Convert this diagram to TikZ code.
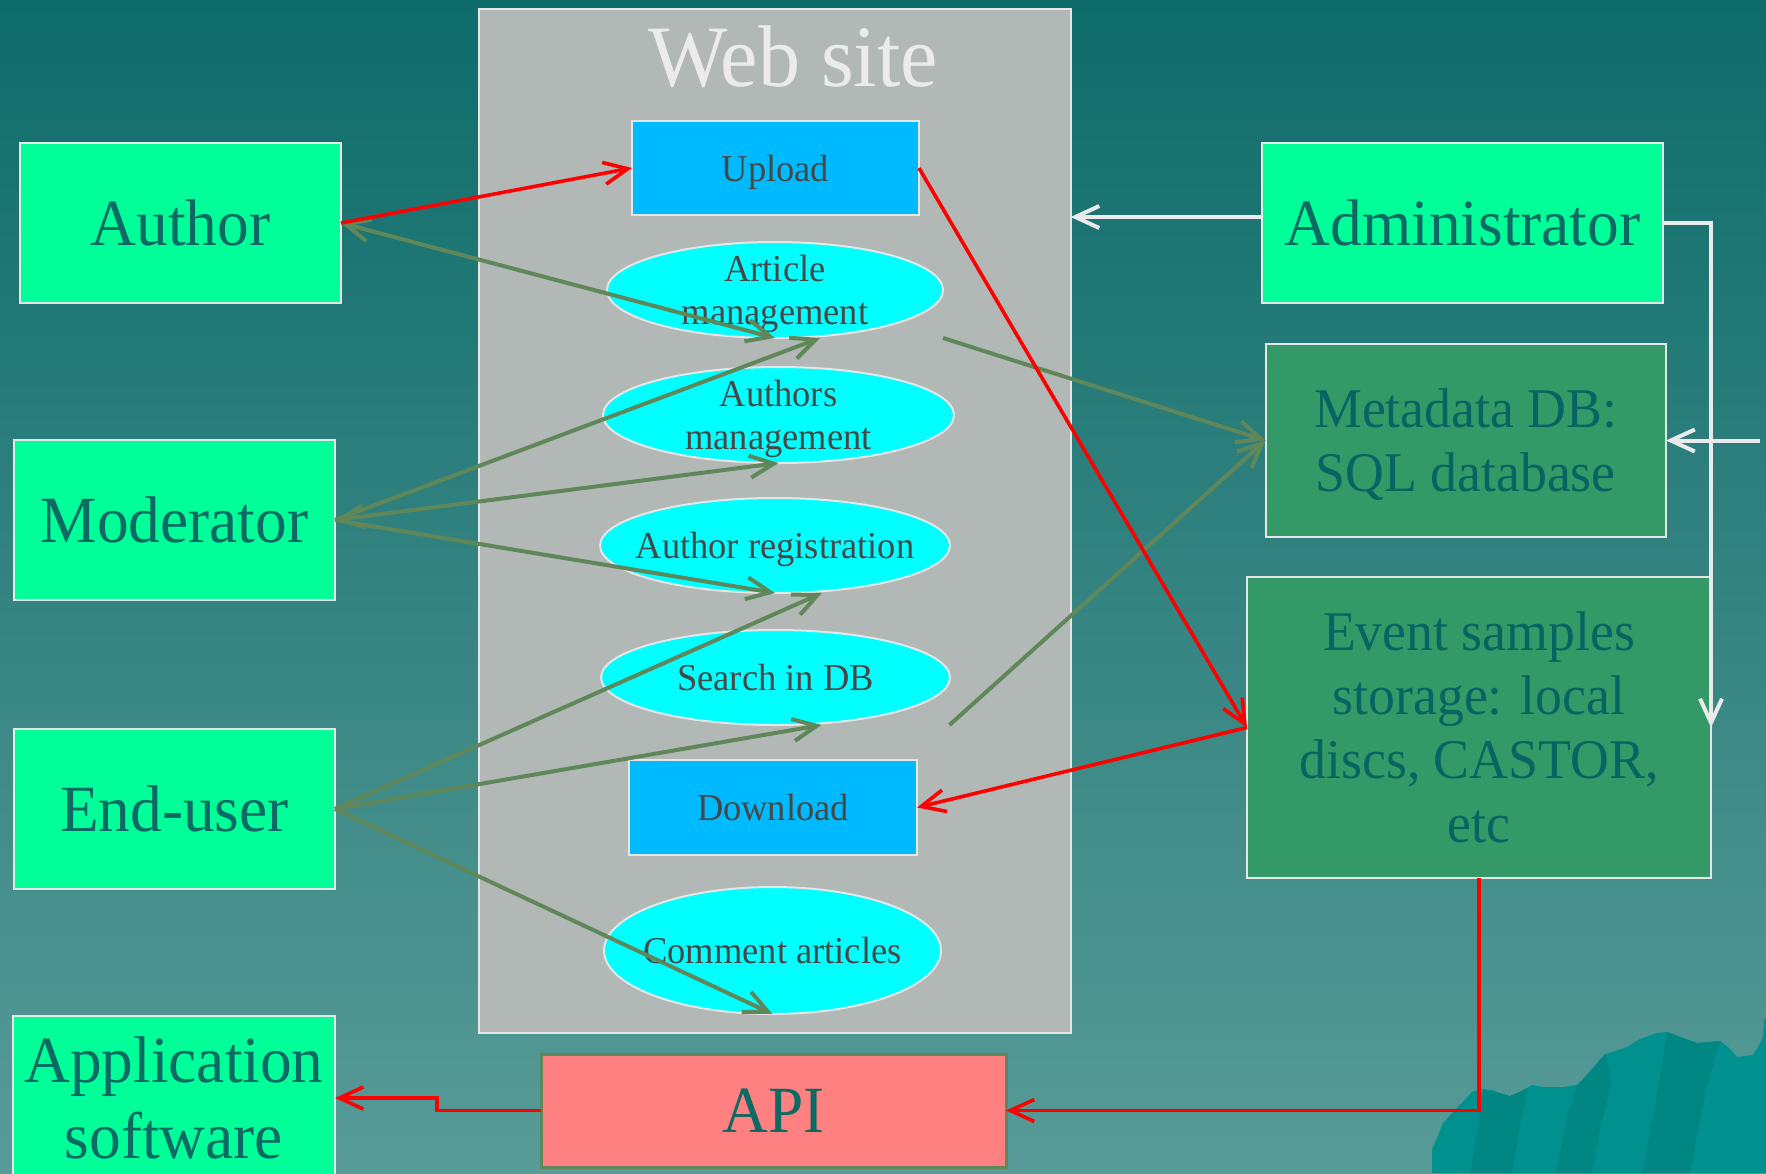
\documentclass[tikz,border=0pt]{standalone}
\usepackage{fontspec}
\setmainfont{Liberation Serif}[FakeStretch=0.96]
\usetikzlibrary{arrows.meta,shapes.geometric,calc}

\definecolor{bgtop}{HTML}{0E6C6A}
\definecolor{bgbottom}{HTML}{589B98}
\definecolor{hill}{HTML}{00918E}
\definecolor{hilldark}{HTML}{008683}
\definecolor{panelfill}{HTML}{B1B8B6}
\definecolor{edge}{HTML}{E6E6E6}
\definecolor{actorfill}{HTML}{00FF99}
\definecolor{storefill}{HTML}{339966}
\definecolor{tealtext}{HTML}{0B6A63}
\definecolor{storetext}{HTML}{086462}
\definecolor{actionfill}{HTML}{00BAFF}
\definecolor{usecasefill}{HTML}{00FFFF}
\definecolor{inktext}{HTML}{474747}
\definecolor{apifill}{HTML}{FF8080}
\definecolor{usegreen}{HTML}{5F875A}
\definecolor{flowred}{HTML}{FF0000}
\definecolor{adminwhite}{HTML}{EAEAEA}
\definecolor{titlewhite}{HTML}{EBEBEB}

\begin{document}
\begin{tikzpicture}[x=0.5pt,y=-0.5pt,
  >={Straight Barb[length=12pt,width=11pt]},
  box/.style={draw=edge, line width=1pt, inner sep=0pt, outer sep=0pt, align=center},
  actor/.style={box, fill=actorfill, text=tealtext, font=\fontsize{33}{38}\selectfont},
  store/.style={box, fill=storefill, text=storetext, text depth=0pt, font=\fontsize{28}{32}\selectfont},
  action/.style={box, fill=actionfill, text=inktext, text depth=0pt, font=\fontsize{19}{21.5}\selectfont},
  usecase/.style={ellipse, draw=edge, line width=1pt, fill=usecasefill, inner sep=0pt, outer sep=0pt},
  uclabel/.style={text=inktext, font=\fontsize{19}{21.5}\selectfont, align=center, inner sep=0pt, text depth=0pt},
  panel/.style={draw=edge, line width=1pt, fill=panelfill, inner sep=0pt, outer sep=0pt},
  webtitle/.style={text=titlewhite, font=\fontsize{43.8}{48}\selectfont, inner sep=0pt},
  apibox/.style={draw=usegreen, line width=1.5pt, fill=apifill, text=tealtext, inner sep=0pt, outer sep=0pt, font=\fontsize{33}{38}\selectfont},
  redarrow/.style={draw=flowred, line width=1.8pt, ->},
  greenarrow/.style={draw=usegreen, line width=2pt},
  whitearrow/.style={draw=adminwhite, line width=2pt, ->}
]
\clip (0,0) rectangle (1766,1173);

% background
\shade[top color=bgtop, bottom color=bgbottom] (0,0) rectangle (1766,1173);

% hills in the lower right corner
\fill[hill] (1432,1173) -- (1432,1150) -- (1443,1123) -- (1458,1107) -- (1472,1092)
  -- (1482,1089) -- (1492,1090) -- (1510,1096) -- (1520,1092) -- (1532,1085)
  -- (1543,1087) -- (1563,1087) -- (1577,1085) -- (1587,1075) -- (1597,1070)
  -- (1602,1060) -- (1605,1054) -- (1613,1052) -- (1627,1047) -- (1640,1039)
  -- (1657,1033) -- (1667,1032) -- (1677,1036) -- (1697,1043) -- (1720,1041)
  -- (1728,1047) -- (1737,1057) -- (1753,1055) -- (1758,1047) -- (1763,1037)
  -- (1764,1020) -- (1766,1018) -- (1766,1173) -- cycle;
\fill[hilldark] (1484,1090) -- (1510,1096) -- (1528,1088) -- (1520,1125) -- (1512,1173) -- (1470,1173) -- cycle;
\fill[hilldark] (1578,1085) -- (1605,1054) -- (1612,1082) -- (1600,1130) -- (1592,1173) -- (1556,1173) -- (1566,1120) -- cycle;
\fill[hilldark] (1667,1032) -- (1697,1043) -- (1720,1041) -- (1706,1090) -- (1696,1140) -- (1690,1173) -- (1642,1173) -- (1656,1100) -- cycle;

% web site panel
\node[panel, minimum width=296pt, minimum height=512pt] (web) at (774.5,520.5) {};
\node[webtitle] (webtitle) at (793,57) {Web site};

% actions and use cases on the web site
\node[action, minimum width=143.5pt, minimum height=47pt] (upload) at (775.5,168) {Upload};
\node[usecase, minimum width=168pt, minimum height=48pt,
  label={[uclabel]center:Article\\management}] (artmgmt) at (775,290) {};
\node[usecase, minimum width=175.5pt, minimum height=48pt,
  label={[uclabel]center:Authors\\management}] (authmgmt) at (778.5,415) {};
\node[usecase, minimum width=175pt, minimum height=47.5pt,
  label={[uclabel]center:Author registration}] (authreg) at (775,545.5) {};
\node[usecase, minimum width=174.5pt, minimum height=47.5pt,
  label={[uclabel]center:Search in DB}] (search) at (775.5,677.5) {};
\node[action, minimum width=144pt, minimum height=47.5pt] (download) at (773,807.5) {Download};
\node[usecase, minimum width=168.5pt, minimum height=63.5pt,
  label={[uclabel]center:Comment articles}] (comment) at (772.5,950.5) {};

% actors
\node[actor, minimum width=160.5pt, minimum height=80pt] (author) at (180.5,223) {Author};
\node[actor, minimum width=160.5pt, minimum height=80pt] (moderator) at (174.5,520) {Moderator};
\node[actor, minimum width=160.5pt, minimum height=80pt] (enduser) at (174.5,809) {End-user};
\node[actor, minimum width=161pt, minimum height=82pt] (appsw) at (174,1098) {Application\\software};
\node[actor, minimum width=200.5pt, minimum height=80pt] (admin) at (1462.5,223) {Administrator};

% storage
\node[store, minimum width=200.25pt, minimum height=96.5pt] (metadata) at (1465.75,440.5) {Metadata DB:\\SQL database};
\node[store, minimum width=232pt, minimum height=150.5pt] (event) at (1479,727.5) {Event samples\\storage: local\\discs, CASTOR,\\etc};

% programming interface
\node[apibox, minimum width=232.5pt, minimum height=56.5pt] (api) at (773.5,1110.5) {API};

% use-case associations
\draw[greenarrow, <->] (author.east) -- (artmgmt.south);
\draw[greenarrow, ->] (moderator.east) -- ([xshift=22.5pt]artmgmt.south);
\draw[greenarrow, <->] (moderator.east) -- (authmgmt.south);
\draw[greenarrow, ->] (moderator.east) -- (authreg.south);
\draw[greenarrow, ->] (enduser.east) -- ([xshift=23.5pt]authreg.south);
\draw[greenarrow, ->] (enduser.east) -- ([xshift=23pt]search.south);
\draw[greenarrow, ->] (enduser.east) -- (comment.south);
\draw[greenarrow, ->] ([xshift=84pt]artmgmt.south) -- (metadata.west);
\draw[greenarrow, ->] ([xshift=87pt]search.south) -- (metadata.west);

% data flow
\draw[redarrow] (author.east) -- (upload.west);
\draw[redarrow] (upload.east) -- (event.west);
\draw[redarrow] (event.west) -- (download.east);
\draw[redarrow] (event.south) |- (api.east);
\draw[redarrow] (api.west) -- ++(-104,0) |- (appsw.east);

% administration
\coordinate (feed) at (1760,440.5);
\draw[whitearrow] ([yshift=3pt]admin.west) -- ([yshift=3pt]admin.west -| web.east);
\draw[whitearrow] (admin.east) -| (event.east);
\draw[whitearrow] (feed) -- (metadata.east);
\end{tikzpicture}
\end{document}
